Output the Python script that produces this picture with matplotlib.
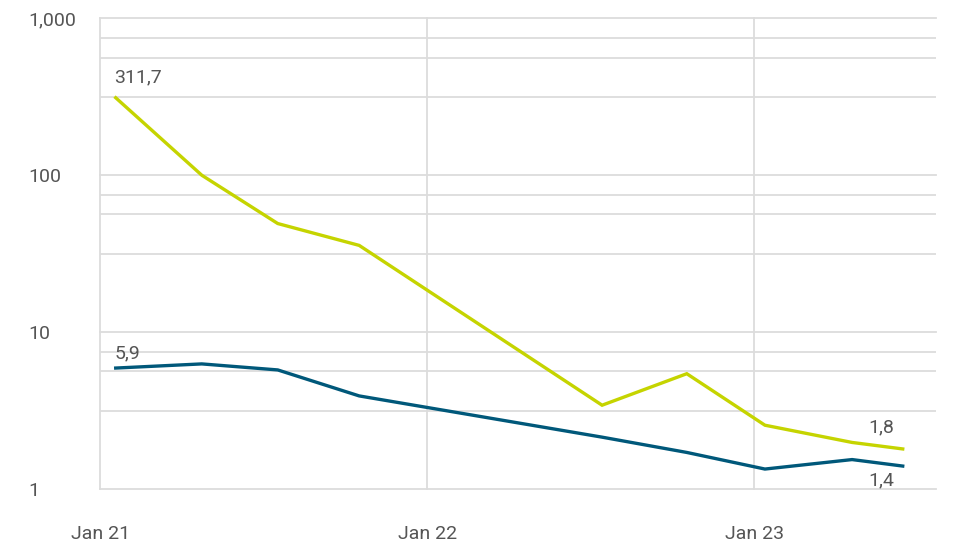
import numpy as np
import matplotlib
matplotlib.use("Agg")
import matplotlib.pyplot as plt
from matplotlib.ticker import FixedLocator, FixedFormatter, NullFormatter

# 数据（月份：自 2021 年 1 月起）
months = [0.56, 3.72, 6.51, 9.5, 18.42, 21.53, 24.4, 27.6, 29.46]
series_green = [311.7, 100.0, 49.2, 35.7, 3.42, 5.43, 2.55, 1.98, 1.8]
series_teal = [5.9, 6.27, 5.74, 3.92, 2.14, 1.71, 1.34, 1.54, 1.4]

x_tick_pos = [0, 12, 24]
x_tick_labels = ["Jan 21", "Jan 22", "Jan 23"]
y_tick_pos = [1, 10, 100, 1000]
y_tick_labels = ["1", "10", "100", "1,000"]

GREEN = "#C5D400"
TEAL = "#00587A"
TEXT = "#555555"
GRID = "#DCDCDC"

plt.rcParams["font.family"] = ["Liberation Sans Narrow", "Roboto", "DejaVu Sans"]

fig = plt.figure(figsize=(9.54, 5.42), dpi=100)
ax = fig.add_axes([0.1053, 0.0978, 0.9808 - 0.1053, 0.9662 - 0.0978])

ax.plot(months, series_green, color=GREEN, lw=2.4, solid_joinstyle="miter", zorder=3)
ax.plot(months, series_teal, color=TEAL, lw=2.4, solid_joinstyle="miter", zorder=3)

ax.set_yscale("log")
ax.set_ylim(1, 1000)
ax.set_xlim(0, 30.67)

# 网格线：每个数量级内 0.5 / 0.75 / 0.875 处的次网格
minor = [10 ** (k + f) for k in range(3) for f in (0.5, 0.75, 0.875)]
ax.yaxis.set_major_locator(FixedLocator(y_tick_pos))
ax.yaxis.set_major_formatter(FixedFormatter(y_tick_labels))
ax.yaxis.set_minor_locator(FixedLocator(minor))
ax.yaxis.set_minor_formatter(NullFormatter())
ax.xaxis.set_major_locator(FixedLocator(x_tick_pos))
ax.xaxis.set_major_formatter(FixedFormatter(x_tick_labels))

ax.grid(True, which="both", axis="y", color=GRID, lw=1.3)
ax.grid(True, which="major", axis="x", color=GRID, lw=1.3)
for gl in ax.get_xgridlines() + ax.get_ygridlines():
    gl.set_clip_on(False)
for s in ax.spines.values():
    s.set_visible(False)

ax.tick_params(axis="both", which="both", length=0, labelsize=14, labelcolor=TEXT)
ax.tick_params(axis="x", pad=26)
ax.tick_params(axis="y", pad=52)
for lbl in ax.get_yticklabels():
    lbl.set_horizontalalignment("left")

# 数据标签
ax.annotate("311,7", (months[0], series_green[0]), xytext=(-1, 8), textcoords="offset points",
            ha="left", va="bottom", fontsize=14, color=TEXT)
ax.annotate("5,9", (months[0], series_teal[0]), xytext=(-1, 4), textcoords="offset points",
            ha="left", va="bottom", fontsize=14, color=TEXT)
ax.annotate("1,8", (months[-1], series_green[-1]), xytext=(-6, 9), textcoords="offset points",
            ha="right", va="bottom", fontsize=14, color=TEXT)
ax.annotate("1,4", (months[-1], series_teal[-1]), xytext=(-6, -4), textcoords="offset points",
            ha="right", va="top", fontsize=14, color=TEXT)

fig.savefig("out.png", dpi=100)
